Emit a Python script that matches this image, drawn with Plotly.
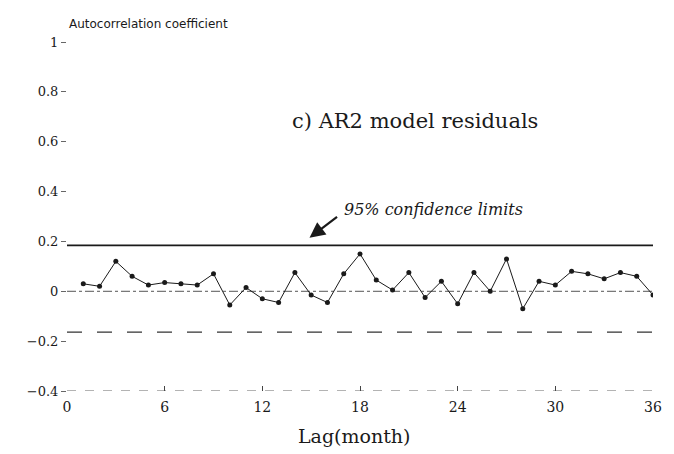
import plotly.graph_objects as go

lags = list(range(1, 37))
acf = [0.03, 0.02, 0.12, 0.06, 0.025, 0.035, 0.03, 0.025, 0.07, -0.055,
       0.015, -0.03, -0.045, 0.075, -0.015, -0.045, 0.07, 0.15, 0.045, 0.005,
       0.075, -0.025, 0.04, -0.05, 0.075, 0.0, 0.13, -0.07, 0.04, 0.025,
       0.08, 0.07, 0.05, 0.075, 0.06, -0.015]
upper_limit = 0.184
lower_limit = -0.164
x_ticks = [0, 6, 12, 18, 24, 30, 36]
y_ticks = [-0.4, -0.2, 0, 0.2, 0.4, 0.6, 0.8, 1]
y_ticktext = ["−0.4", "−0.2", "0", "0.2", "0.4", "0.6", "0.8", "1"]

SERIF = "DejaVu Serif"
INK = "#1a1a1a"

fig = go.Figure()

# zero line (dash-dot)
fig.add_trace(go.Scatter(x=[0, 36], y=[0, 0], mode="lines",
                         line=dict(color="#555", width=1, dash="dashdot"),
                         hoverinfo="skip", showlegend=False))
# confidence limits
fig.add_trace(go.Scatter(x=[0, 36], y=[upper_limit, upper_limit], mode="lines",
                         line=dict(color=INK, width=1.6),
                         hoverinfo="skip", showlegend=False))
fig.add_trace(go.Scatter(x=[0, 36], y=[lower_limit, lower_limit], mode="lines",
                         line=dict(color="#333", width=1.4, dash="longdash"),
                         hoverinfo="skip", showlegend=False))
# bottom line at -0.4
fig.add_trace(go.Scatter(x=[0, 36], y=[-0.4, -0.4], mode="lines",
                         line=dict(color="#666", width=1, dash="dash"),
                         hoverinfo="skip", showlegend=False))
# autocorrelation series
fig.add_trace(go.Scatter(x=lags, y=acf, mode="lines+markers",
                         line=dict(color=INK, width=1),
                         marker=dict(color=INK, size=5),
                         showlegend=False))

fig.add_annotation(x=21.4, y=0.684, text="c) AR2 model residuals", showarrow=False,
                   font=dict(family=SERIF, size=21, color=INK))
fig.add_annotation(x=16.9, y=0.33, text="<i>95% confidence limits</i>", showarrow=False,
                   xanchor="left", font=dict(family=SERIF, size=16, color=INK))
fig.add_annotation(x=14.9, y=0.215, ax=29, ay=-22, text="", showarrow=True,
                   arrowhead=2, arrowsize=1.4, arrowwidth=2.2, arrowcolor=INK)
fig.add_annotation(xref="paper", yref="paper", x=0, y=1.052,
                   text="Autocorrelation coefficient", showarrow=False,
                   xanchor="left", yanchor="middle",
                   font=dict(family="DejaVu Sans", size=12, color=INK))
fig.add_annotation(xref="paper", yref="paper", x=0.49, y=-0.13,
                   text="Lag(month)", showarrow=False, yanchor="middle",
                   font=dict(family=SERIF, size=19, color=INK))

fig.update_layout(
    width=674, height=454,
    margin=dict(l=67, r=14, t=42, b=63),
    paper_bgcolor="white", plot_bgcolor="white",
    xaxis=dict(range=[0, 36], tickvals=x_ticks, ticks="inside", ticklen=5,
               tickcolor="#444", showgrid=False, zeroline=False, showline=False,
               ticklabelstandoff=6,
               tickfont=dict(family=SERIF, size=14, color=INK)),
    yaxis=dict(range=[-0.4, 1.0], tickvals=y_ticks, ticktext=y_ticktext,
               ticks="outside", ticklen=5, tickcolor="#666",
               showgrid=False, zeroline=False, showline=False,
               tickfont=dict(family=SERIF, size=13, color=INK)),
)

fig.write_html("out.html")
